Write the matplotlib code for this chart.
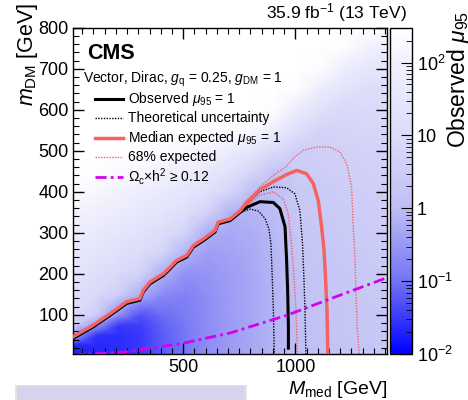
import matplotlib
matplotlib.use("Agg")
import matplotlib.pyplot as plt
import numpy as np
from matplotlib.colors import LogNorm, LinearSegmentedColormap
from matplotlib.patches import Rectangle

plt.rcParams["font.family"] = ["Liberation Sans", "DejaVu Sans"]
plt.rcParams["mathtext.fontset"] = "custom"
plt.rcParams["mathtext.rm"] = "Liberation Sans"
plt.rcParams["mathtext.it"] = "Liberation Sans:italic"
plt.rcParams["mathtext.bf"] = "Liberation Sans:bold"

# Observed mu_95 map (log10), rows = m_DM, columns = M_med
grid_mmed = [10, 110, 210, 310, 410, 510, 610, 710, 810, 910, 1010, 1110, 1210, 1310, 1410]
grid_mdm = [0, 25, 50, 75, 100, 150, 200, 250, 300, 350, 400, 450, 500, 550, 600, 650, 700, 750, 800]
log_mu = [
    [-1.7, -1.65, -1.6, -1.5, -1.2, -0.95, -0.65, -0.45, -0.3, -0.12, 0.05, 0.15, 0.22, 0.28, 0.32],
    [-1.7, -1.65, -1.6, -1.5, -1.2, -0.95, -0.65, -0.45, -0.3, -0.12, 0.05, 0.15, 0.22, 0.28, 0.32],
    [-0.3, -1.55, -1.6, -1.5, -1.18, -0.93, -0.65, -0.45, -0.3, -0.12, 0.06, 0.16, 0.23, 0.29, 0.33],
    [0.6, -0.4, -1.5, -1.45, -1.15, -0.9, -0.65, -0.45, -0.3, -0.12, 0.065, 0.165, 0.235, 0.295, 0.335],
    [1.0, 0.6, -0.6, -1.3, -1.05, -0.88, -0.64, -0.44, -0.3, -0.12, 0.07, 0.17, 0.24, 0.3, 0.34],
    [1.2, 0.95, 0.6, -0.2, -0.7, -0.8, -0.62, -0.43, -0.29, -0.12, 0.1, 0.2, 0.27, 0.33, 0.37],
    [1.4, 1.2, 0.95, 0.7, -0.2, -0.6, -0.56, -0.42, -0.28, -0.11, 0.15, 0.24, 0.31, 0.37, 0.4],
    [1.6, 1.45, 1.2, 1.0, 0.7, -0.15, -0.43, -0.37, -0.26, -0.09, 0.2, 0.3, 0.36, 0.41, 0.45],
    [1.85, 1.7, 1.5, 1.3, 1.05, 0.7, -0.2, -0.29, -0.2, -0.06, 0.27, 0.36, 0.42, 0.47, 0.5],
    [2.1, 1.95, 1.8, 1.6, 1.4, 1.1, 0.7, -0.15, -0.12, 0.0, 0.32, 0.4, 0.46, 0.5, 0.53],
    [2.35, 2.2, 2.05, 1.9, 1.72, 1.5, 1.2, 0.75, 0.0, 0.08, 0.36, 0.44, 0.5, 0.54, 0.57],
    [2.47, 2.45, 2.35, 2.2, 2.05, 1.88, 1.65, 1.3, 0.8, 0.2, 0.45, 0.52, 0.57, 0.61, 0.63],
    [2.47, 2.47, 2.47, 2.45, 2.38, 2.25, 2.05, 1.8, 1.45, 0.95, 0.55, 0.62, 0.67, 0.7, 0.72],
    [2.47, 2.47, 2.47, 2.47, 2.47, 2.47, 2.47, 2.45, 2.25, 1.8, 1.13, 0.74, 0.78, 0.81, 0.83],
    [2.47, 2.47, 2.47, 2.47, 2.47, 2.47, 2.47, 2.47, 2.47, 2.4, 1.75, 1.27, 0.92, 0.94, 0.95],
    [2.47, 2.47, 2.47, 2.47, 2.47, 2.47, 2.47, 2.47, 2.47, 2.47, 2.4, 1.8, 1.38, 1.08, 1.08],
    [2.47, 2.47, 2.47, 2.47, 2.47, 2.47, 2.47, 2.47, 2.47, 2.47, 2.47, 2.4, 1.9, 1.62, 1.38],
    [2.47, 2.47, 2.47, 2.47, 2.47, 2.47, 2.47, 2.47, 2.47, 2.47, 2.47, 2.47, 2.4, 2.05, 1.8],
    [2.47, 2.47, 2.47, 2.47, 2.47, 2.47, 2.47, 2.47, 2.47, 2.47, 2.47, 2.47, 2.47, 2.47, 2.3],
]

# contour along the kinematic diagonal (expected)
diag_x = [10, 99, 174, 248, 307, 322, 352, 411, 441, 471, 516, 545, 590, 642, 656, 709, 754]
diag_y = [47, 75, 103, 132, 140, 160, 180, 200, 216, 233, 245, 269, 285, 306, 326, 334, 354]
# observed sits a little below
obs_diag_y = [43, 71, 99, 128, 136, 156, 176, 196, 212, 229, 241, 265, 281, 302, 322, 330, 350]

obs_x = [783, 842, 902, 931, 954, 961, 966, 969, 969]
obs_y = [362, 376, 374, 359, 315, 234, 153, 72, 19]
theo_lo_x = [800, 835, 865, 882, 891, 897, 902, 906]
theo_lo_y = [358, 353, 335, 310, 274, 193, 112, 4]
theo_hi_x = [783, 842, 902, 961, 998, 1020, 1032, 1038, 1043, 1047]
theo_hi_y = [370, 400, 412, 410, 395, 355, 274, 193, 112, 4]

exp_x = [783, 842, 902, 961, 1006, 1050, 1080, 1102, 1117, 1128, 1135, 1141, 1145]
exp_y = [375, 405, 425, 442, 452, 444, 420, 379, 315, 257, 185, 112, 4]
exp_lo_x = [783, 842, 902, 946, 968, 983, 994, 1003, 1009]
exp_lo_y = [365, 392, 400, 383, 347, 274, 193, 112, 4]
exp_hi_x = [842, 902, 961, 991, 1035, 1095, 1154, 1199, 1229, 1251, 1258, 1266, 1270, 1276, 1285]
exp_hi_y = [412, 440, 462, 482, 501, 509, 509, 497, 468, 412, 315, 234, 153, 72, 4]

relic_x = [10, 62, 248, 500, 709, 962, 1140, 1410]
relic_y = [0, 4, 10, 31, 56, 99, 136, 191]

red = "#f56262"
magenta = "#d400ee"
dashdot = (0, (4, 1.5, 1, 1.5))

cmap = LinearSegmentedColormap.from_list(
    "rootblue",
    [(0.0, (0 / 255, 0 / 255, 255 / 255)),
     (0.2234, (115 / 255, 115 / 255, 245 / 255)),
     (0.4468, (190 / 255, 190 / 255, 245 / 255)),
     (0.670, (220 / 255, 220 / 255, 250 / 255)),
     (0.893, (240 / 255, 240 / 255, 253 / 255)),
     (1.0, (1, 1, 1))])

fig = plt.figure(figsize=(4.68, 4.0), dpi=100)
ax = fig.add_axes([73.3 / 468, 1 - 354.3 / 400, 314 / 468, 326.6 / 400])
cax = fig.add_axes([390 / 468, 1 - 354.3 / 400, 22 / 468, 326.6 / 400])

mesh = ax.pcolormesh(grid_mmed, grid_mdm, 10 ** np.array(log_mu), shading="gouraud",
                     cmap=cmap, norm=LogNorm(vmin=0.01, vmax=300), zorder=0)

ax.plot(diag_x + theo_lo_x, obs_diag_y + theo_lo_y, color="black", lw=1.0, ls=(0, (1, 1)), zorder=2)
ax.plot(diag_x + theo_hi_x, obs_diag_y + theo_hi_y, color="black", lw=1.0, ls=(0, (1, 1)), zorder=2)
ax.plot(diag_x + exp_lo_x, diag_y + exp_lo_y, color=red, lw=1.0, ls=(0, (1, 1)), zorder=2)
ax.plot(diag_x + exp_hi_x, diag_y + exp_hi_y, color=red, lw=1.0, ls=(0, (1, 1)), zorder=2)
ax.plot(diag_x + obs_x, obs_diag_y + obs_y, color="black", lw=2.2, zorder=3)
ax.plot(diag_x + exp_x, diag_y + exp_y, color=red, lw=2.5, zorder=4)
ax.plot(relic_x, relic_y, color=magenta, lw=2.0, ls=dashdot, zorder=5)

ax.set_xlim(10, 1410)
ax.set_ylim(4, 800)
ax.set_xticks([500, 1000])
ax.set_xticks(np.arange(50, 1410, 50), minor=True)
ax.set_yticks(np.arange(100, 801, 100))
ax.set_yticks(np.arange(20, 801, 20), minor=True)
ax.tick_params(which="both", direction="in", top=True, right=True, labelsize=13)
ax.tick_params(which="major", length=8, width=1)
ax.tick_params(which="minor", length=4.5, width=0.8)
for s in ax.spines.values():
    s.set_linewidth(1.0)

# legend block
ax.text(0.044, 0.922, "CMS", transform=ax.transAxes, fontsize=15.5, fontweight="bold", va="center")
ax.text(0.031, 0.843, r"Vector, Dirac, $g_{\mathrm{q}}$ = 0.25, $g_{\mathrm{DM}}$ = 1",
        transform=ax.transAxes, fontsize=10, va="center")
leg_rows = [
    ("Observed $\\mu_{95}$ = 1", dict(color="black", lw=2.2)),
    ("Theoretical uncertainty", dict(color="black", lw=1.0, ls=(0, (1, 1)))),
    ("Median expected $\\mu_{95}$ = 1", dict(color=red, lw=2.5)),
    ("68% expected", dict(color=red, lw=1.0, ls=(0, (1, 1)))),
    ("\u03a9$_{\\mathrm{c}}$\u00d7h$^{2}$ \u2265 0.12", dict(color=magenta, lw=2.0, ls=dashdot)),
]
leg_y = [0.783, 0.724, 0.663, 0.604, 0.543]
for (label, style), yy in zip(leg_rows, leg_y):
    ax.plot([0.069, 0.158], [yy, yy], transform=ax.transAxes, **style)
    ax.text(0.174, yy, label, transform=ax.transAxes, fontsize=10, va="center")

cb = fig.colorbar(mesh, cax=cax)
cb.outline.set_linewidth(1.0)
cb.set_ticks([0.01, 0.1, 1, 10, 100])
cb.set_ticklabels(["$10^{-2}$", "$10^{-1}$", "1", "10", "$10^{2}$"])
cax.tick_params(which="both", direction="in", labelsize=13)
cax.tick_params(which="major", length=8)
cax.tick_params(which="minor", length=4)

fig.text(27 / 468, 1 - 3 / 400, "$m_{\\mathrm{DM}}$ [GeV]", rotation=90, ha="center", va="top", fontsize=15.5)
fig.text(387 / 468, 1 - 389 / 400, "$M_{\\mathrm{med}}$ [GeV]", ha="right", va="center", fontsize=14)
fig.text(407 / 468, 1 - 13 / 400, "35.9 fb$^{-1}$ (13 TeV)", ha="right", va="center", fontsize=12.5)
# colour-bar title runs off the top edge, as in the reference
fig.text(459 / 468, 1 - 148 / 400, "Observed $\\mu_{95}$", rotation=90, ha="center", va="bottom", fontsize=16.5)

# box peeking in at the bottom
fig.patches.append(Rectangle((15 / 468, 0), 232 / 468, 15 / 400, transform=fig.transFigure,
                             facecolor="#e4e4e4", edgecolor="none", zorder=0))
fig.patches.append(Rectangle((17 / 468, 0), 228 / 468, 14 / 400, transform=fig.transFigure,
                             facecolor="#d8d2ea", edgecolor="none", zorder=1))

fig.savefig("out.png", dpi=100)
